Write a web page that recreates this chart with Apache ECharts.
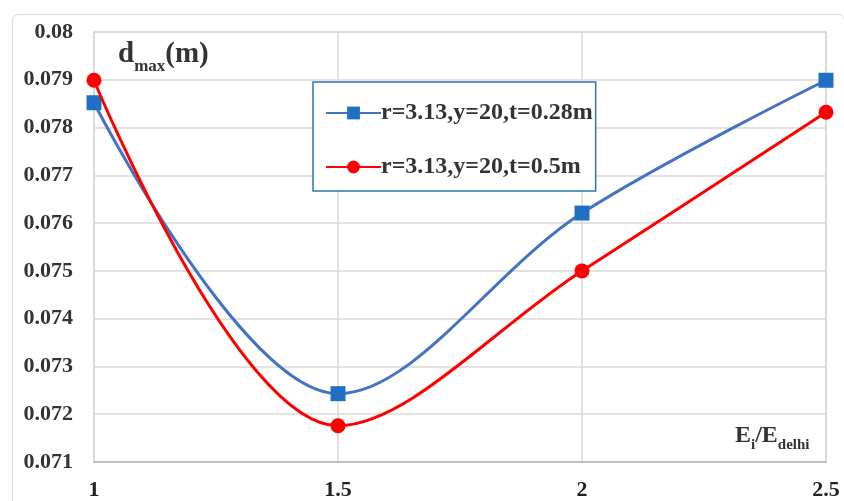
<!DOCTYPE html>
<html><head><meta charset="utf-8">
<script src="https://cdn.jsdelivr.net/npm/echarts@6/dist/echarts.min.js"></script>
<style>html,body{margin:0;padding:0;background:#fff}#c{width:844px;height:501px}</style>
</head><body><div id="c"></div>
<script>
const xValues = [1, 1.5, 2, 2.5];
const seriesNames = ['r=3.13,y=20,t=0.28m', 'r=3.13,y=20,t=0.5m'];
const blueValues = [0.07852, 0.07243, 0.07621, 0.07899];
const redValues = [0.07899, 0.07176, 0.07500, 0.07832];
const yMin = 0.071, yMax = 0.080, yStep = 0.001;
const xMin = 1, xMax = 2.5, xStep = 0.5;

const font = '"Liberation Serif", "Times New Roman", serif';
const chart = echarts.init(document.getElementById('c'), null, {renderer: 'canvas'});
chart.setOption({
  animation: false,
  backgroundColor: '#fff',
  grid: {left: 94, right: 18, top: 32, bottom: 39, show: true, borderColor: '#cfcfcf', borderWidth: 1.5},
  xAxis: {
    type: 'value', min: xMin, max: xMax, interval: xStep,
    axisLine: {show: true, lineStyle: {color: '#bfbfbf', width: 2}},
    axisTick: {show: false},
    splitLine: {show: true, lineStyle: {color: '#d9d9d9', width: 1.5}},
    axisLabel: {fontFamily: font, fontWeight: 'bold', fontSize: 22, color: '#222', margin: 17,
      formatter: v => String(v)}
  },
  yAxis: {
    type: 'value', min: yMin, max: yMax, interval: yStep,
    axisLine: {show: false},
    axisTick: {show: false},
    splitLine: {show: true, lineStyle: {color: '#d9d9d9', width: 1.5}},
    axisLabel: {fontFamily: font, fontWeight: 'bold', fontSize: 22, color: '#333', margin: 21,
      formatter: v => String(parseFloat(v.toFixed(3)))}
  },
  legend: {
    orient: 'vertical', left: 313, top: 82,
    data: seriesNames,
    itemWidth: 55, itemHeight: 16, itemGap: 30,
    padding: [19, 3, 12, 12],
    borderColor: '#2E75B6', borderWidth: 1.5, backgroundColor: '#fff',
    textStyle: {fontFamily: font, fontWeight: 'bold', fontSize: 24, color: '#333', padding: [0, 0, 0, -5]}
  },
  graphic: [
    {type: 'rect', left: 10, top: 12, shape: {width: 832, height: 500, r: 6}, style: {fill: 'none', stroke: '#d9d9d9', lineWidth: 1}, z: -10},
    {type: 'text', left: 118, top: 40, style: {
      text: '{a|d}{b|max}{a|(m)}', fontFamily: font,
      rich: {a: {fontFamily: font, fontWeight: 'bold', fontSize: 29, fill: '#333', verticalAlign: 'bottom'},
             b: {fontFamily: font, fontWeight: 'bold', fontSize: 17, fill: '#333', verticalAlign: 'bottom', padding: [0, 0, -6, 0]}}
    }},
    {type: 'text', left: 735, top: 424, style: {
      text: '{a|E}{b|i}{a|/E}{b|delhi}', fontFamily: font,
      rich: {a: {fontFamily: font, fontWeight: 'bold', fontSize: 24, fill: '#333', verticalAlign: 'bottom'},
             b: {fontFamily: font, fontWeight: 'bold', fontSize: 15, fill: '#333', verticalAlign: 'bottom', padding: [0, 0, -5, 0]}}
    }}
  ],
  series: [
    {name: seriesNames[0], type: 'line', smooth: 0.35,
     data: xValues.map((x, i) => [x, blueValues[i]]),
     symbol: 'rect', symbolSize: 15,
     lineStyle: {color: '#4472C4', width: 3},
     itemStyle: {color: '#1F6FC5'}, z: 3},
    {name: seriesNames[1], type: 'line', smooth: 0.35,
     data: xValues.map((x, i) => [x, redValues[i]]),
     symbol: 'circle', symbolSize: 15,
     lineStyle: {color: '#FF0000', width: 3},
     itemStyle: {color: '#FF0000'}, z: 4}
  ]
});
</script></body></html>
